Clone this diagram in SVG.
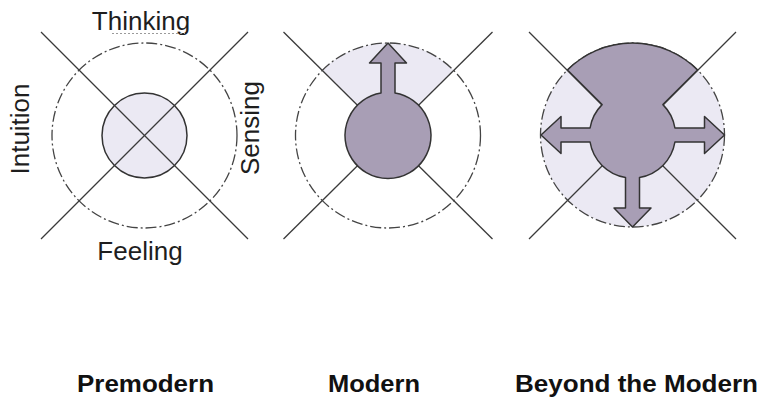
<svg xmlns="http://www.w3.org/2000/svg" width="763" height="398" viewBox="0 0 763 398">
<style>
.ax{stroke:#3a3a3a;stroke-width:1.3;fill:none}
.outer{fill:none;stroke:#444;stroke-width:1.3;stroke-dasharray:11 3 2 3}
.light{fill:#ebe9f3}
.dark{fill:#a89eb5;stroke:#333;stroke-width:1.5;stroke-linejoin:round}
.lbl{font-family:"Liberation Sans",Arial,sans-serif;font-size:26px;fill:#1e1e1e}
.ttl{font-family:"Liberation Sans",Arial,sans-serif;font-size:24px;font-weight:bold;fill:#111}
</style>
<rect width="763" height="398" fill="#fff"/>

<g id="premodern">
  <circle class="light" cx="144.5" cy="135.5" r="42.5" stroke="#333" stroke-width="1.5"/>
  <g class="axes">
    <line class="ax" x1="41" y1="32" x2="248" y2="239"/>
    <line class="ax" x1="248" y1="32" x2="41" y2="239"/>
  </g>
  <circle class="outer" cx="144.5" cy="135.5" r="92.5"/>
</g>

<g id="modern">
  <path class="light" d="M388,135.5 L322.6,70.1 A92.5,92.5 0 0 1 453.4,70.1 Z"/>
  <g class="axes">
    <line class="ax" x1="283.5" y1="32" x2="492.5" y2="239"/>
    <line class="ax" x1="492.5" y1="32" x2="283.5" y2="239"/>
  </g>
  <circle class="outer" cx="388" cy="135.5" r="92.5"/>
  <path class="dark" d="M381,93.1 L381,63 L369.5,63 L388,43 L406.5,63 L395,63 L395,93.1 A43,43 0 1 1 381,93.1 Z"/>
</g>

<g id="beyond">
  <circle class="light" cx="632.5" cy="135" r="92"/>
  <g class="axes">
    <line class="ax" x1="529" y1="32" x2="736" y2="239"/>
    <line class="ax" x1="736" y1="32" x2="529" y2="239"/>
  </g>
  <circle class="outer" cx="632.5" cy="135" r="92"/>
  <path class="dark" d="M602.1,104.6 L567.45,69.95 A92,92 0 0 1 697.55,69.95 L662.9,104.6 A43,43 0 0 1 674.93,128 L704.5,128 L704.5,116.5 L724.5,135 L704.5,153.5 L704.5,142 L674.93,142 A43,43 0 0 1 639.5,177.43 L639.5,208 L651,208 L632.5,227 L614,208 L625.5,208 L625.5,177.43 A43,43 0 0 1 590.07,142 L561,142 L561,153.5 L541,135 L561,116.5 L561,128 L590.07,128 A43,43 0 0 1 602.1,104.6 Z"/>
</g>

<g id="labels">
  <text class="lbl" x="141" y="30" text-anchor="middle">Thinking</text>
  <line x1="112" y1="33.5" x2="185" y2="33.5" stroke="#9a9a9a" stroke-width="1.2" stroke-dasharray="2 2"/>
  <text class="lbl" x="140" y="260" text-anchor="middle">Feeling</text>
  <text class="lbl" transform="translate(29,129) rotate(-90)" text-anchor="middle">Intuition</text>
  <text class="lbl" transform="translate(259,128) rotate(-90)" text-anchor="middle">Sensing</text>
  <text class="ttl" x="77" y="392" textLength="137" lengthAdjust="spacingAndGlyphs">Premodern</text>
  <text class="ttl" x="328" y="392" textLength="92" lengthAdjust="spacingAndGlyphs">Modern</text>
  <text class="ttl" x="515" y="392" textLength="243" lengthAdjust="spacingAndGlyphs">Beyond the Modern</text>
</g>
</svg>
